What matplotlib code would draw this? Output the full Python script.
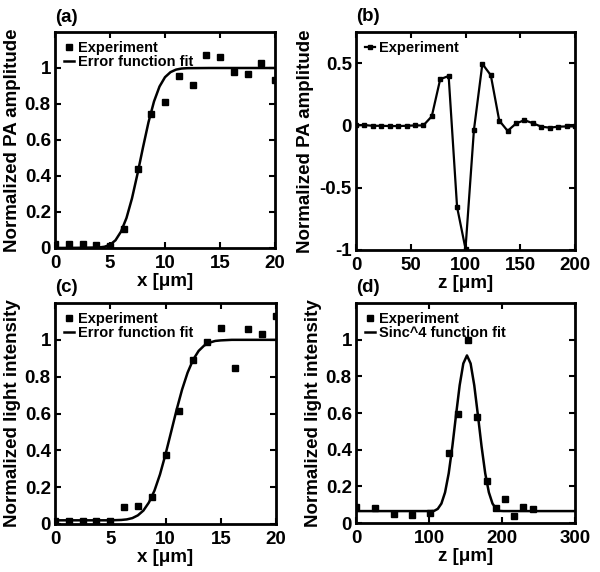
import numpy as np
import matplotlib
matplotlib.use('Agg')
import matplotlib.pyplot as plt

plt.rcParams['font.family'] = ['Liberation Sans', 'DejaVu Sans']
plt.rcParams['font.weight'] = 'bold'
plt.rcParams['axes.labelweight'] = 'bold'

# (a) PA amplitude across an edge
a_x = [0, 1.25, 2.5, 3.75, 5, 6.25, 7.5, 8.75, 10, 11.25, 12.5, 13.75, 15, 16.25, 17.5, 18.75, 20]
a_exp = [0.024, 0.022, 0.022, 0.015, 0.013, 0.106, 0.44, 0.744, 0.81, 0.957, 0.907, 1.074, 1.061,
         0.98, 0.967, 1.03, 0.935]
a_fit_x = [0, 2, 4, 4.5, 5, 5.5, 6, 6.5, 7, 7.5, 8, 8.5, 9, 9.5, 10, 10.5, 11, 11.5, 12, 14, 20]
a_fit_y = [0.0, 0.001, 0.003, 0.007, 0.018, 0.043, 0.091, 0.167, 0.276, 0.412, 0.559, 0.699,
           0.814, 0.897, 0.949, 0.977, 0.991, 0.997, 0.999, 1.0, 1.0]

# (b) PA amplitude along z
b_z = [0, 7.7, 15.4, 23.1, 30.8, 38.5, 46.2, 53.8, 61.5, 69.2, 76.9, 84.6, 92.3, 100, 107.7,
       115.4, 123.1, 130.8, 138.5, 146.2, 153.8, 161.5, 169.2, 176.9, 184.6, 192.3, 200]
b_exp = [0.0, 0.003, -0.003, -0.003, -0.005, -0.005, -0.003, 0.0, 0.0, 0.073, 0.371, 0.397,
         -0.655, -0.99, -0.036, 0.494, 0.403, 0.039, -0.044, 0.016, 0.042, 0.018, -0.01,
         -0.018, -0.01, -0.008, -0.008]

# (c) light intensity across an edge
c_x = [0, 1.25, 2.5, 3.75, 5, 6.25, 7.5, 8.75, 10, 11.25, 12.5, 13.75, 15, 16.25, 17.5, 18.75, 20]
c_exp = [0.015, 0.015, 0.015, 0.015, 0.015, 0.092, 0.099, 0.148, 0.372, 0.611, 0.891, 0.986,
         1.063, 0.846, 1.06, 1.031, 1.127]
c_fit_x = [0, 5, 6, 6.5, 7, 7.5, 8, 8.5, 9, 9.5, 10, 10.5, 11, 11.5, 12, 12.5, 13, 13.5, 14,
           14.5, 15, 16, 20]
c_fit_y = [0.02, 0.02, 0.022, 0.025, 0.032, 0.047, 0.073, 0.117, 0.181, 0.269, 0.378, 0.498,
           0.619, 0.73, 0.822, 0.892, 0.94, 0.969, 0.985, 0.994, 0.997, 1.0, 1.0]

# (d) light intensity along z
d_z = [0, 26, 52, 77, 102, 127, 140, 153, 166, 179, 192, 204, 216, 229, 242]
d_exp = [0.086, 0.08, 0.051, 0.042, 0.053, 0.384, 0.594, 1.0, 0.576, 0.227, 0.082, 0.132,
         0.04, 0.086, 0.077]
d_fit_x = [0, 102, 107, 112, 117, 122, 127, 132, 137, 142, 147, 152, 157, 162, 167, 172, 177,
           182, 187, 192, 197, 202, 300]
d_fit_y = [0.065, 0.065, 0.066, 0.077, 0.106, 0.167, 0.271, 0.418, 0.588, 0.751, 0.87, 0.914,
           0.87, 0.751, 0.588, 0.418, 0.271, 0.167, 0.106, 0.077, 0.066, 0.065, 0.065]

W, H = 600, 572


def makeAxes(fig, left, top, width, height):
    return fig.add_axes([left / W, 1 - (top + height) / H, width / W, height / H])


def styleAxes(ax, xlabel, ylabel, tag, label_px, width):
    for s in ax.spines.values():
        s.set_linewidth(2)
    ax.tick_params(direction='in', top=True, right=True, length=4, width=1.5,
                   labelsize=13.5)
    ax.tick_params(axis='x', pad=5)
    ax.tick_params(axis='y', pad=3)
    for lab in ax.get_xticklabels() + ax.get_yticklabels():
        lab.set_fontweight('bold')
    ax.set_xlabel(xlabel, fontsize=13.5, labelpad=1)
    ax.set_ylabel(ylabel, fontsize=13.5)
    # label_px = distance (px) from the axis line to the right edge of the rotated label
    ax.yaxis.set_label_coords(-label_px / width, 0.5)
    ax.text(0.0, 1.03, tag, transform=ax.transAxes, fontsize=13.5, fontweight='bold',
            ha='left', va='bottom')


def addLegend(ax):
    ax.legend(loc='upper left', frameon=False, handlelength=0.7,
              handletextpad=0.25, borderaxespad=0.2, labelspacing=0.05,
              prop={'weight': 'bold', 'size': 10.5})


fig = plt.figure(figsize=(W / 100, H / 100), dpi=100)

ax = makeAxes(fig, 55, 32, 220, 216)
ax.plot(a_x, a_exp, 's', color='black', markersize=4.5, label='Experiment')
ax.plot(a_fit_x, a_fit_y, '-', color='black', linewidth=1.8, label='Error function fit')
ax.set_xlim(0, 20)
ax.set_ylim(0, 1.2)
ax.set_xticks([0, 5, 10, 15, 20])
ax.set_yticks([0, 0.2, 0.4, 0.6, 0.8, 1])
ax.set_yticklabels(['0', '0.2', '0.4', '0.6', '0.8', '1'])
styleAxes(ax, 'x [\u03bcm]', 'Normalized PA amplitude', '(a)', 34, 220)
addLegend(ax)

ax = makeAxes(fig, 356, 32, 219, 218)
ax.plot(b_z, b_exp, '-s', color='black', markersize=3.5, linewidth=1.6, label='Experiment')
ax.set_xlim(0, 200)
ax.set_ylim(-1, 0.75)
ax.set_xticks([0, 50, 100, 150, 200])
ax.set_yticks([-1, -0.5, 0, 0.5])
ax.set_yticklabels(['-1', '-0.5', '0', '0.5'])
styleAxes(ax, 'z [\u03bcm]', 'Normalized PA amplitude', '(b)', 42, 219)
addLegend(ax)

ax = makeAxes(fig, 55, 303, 221, 221)
ax.plot(c_x, c_exp, 's', color='black', markersize=4.5, label='Experiment')
ax.plot(c_fit_x, c_fit_y, '-', color='black', linewidth=1.8, label='Error function fit')
ax.set_xlim(0, 20)
ax.set_ylim(0, 1.2)
ax.set_xticks([0, 5, 10, 15, 20])
ax.set_yticks([0, 0.2, 0.4, 0.6, 0.8, 1])
ax.set_yticklabels(['0', '0.2', '0.4', '0.6', '0.8', '1'])
styleAxes(ax, 'x [\u03bcm]', 'Normalized light intensity', '(c)', 34, 221)
addLegend(ax)

ax = makeAxes(fig, 356, 303, 219, 220)
ax.plot(d_z, d_exp, 's', color='black', markersize=4.5, label='Experiment')
ax.plot(d_fit_x, d_fit_y, '-', color='black', linewidth=1.8, label='Sinc^4 function fit')
ax.set_xlim(0, 300)
ax.set_ylim(0, 1.2)
ax.set_xticks([0, 100, 200, 300])
ax.set_yticks([0, 0.2, 0.4, 0.6, 0.8, 1])
ax.set_yticklabels(['0', '0.2', '0.4', '0.6', '0.8', '1'])
styleAxes(ax, 'z [\u03bcm]', 'Normalized light intensity', '(d)', 34, 219)
addLegend(ax)

fig.savefig('out.png', dpi=100)
